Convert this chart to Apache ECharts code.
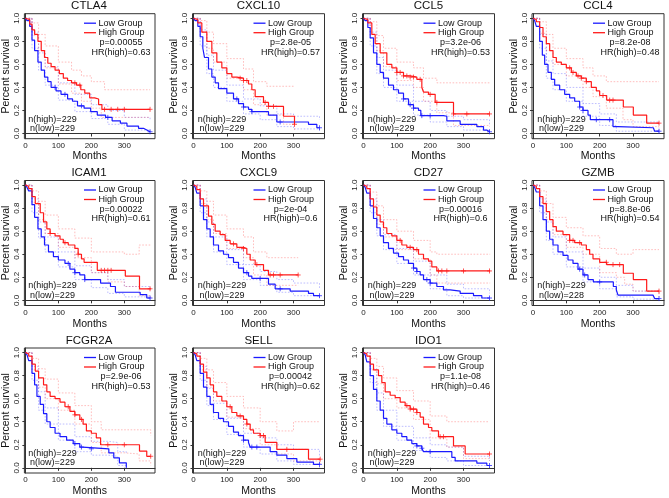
<!DOCTYPE html>
<html><head><meta charset="utf-8">
<script src="https://cdn.jsdelivr.net/npm/echarts@6/dist/echarts.min.js"></script>
<style>html,body{margin:0;padding:0;background:#fff}#c{width:669px;height:498px}</style>
</head><body><div id="c"></div>
<script>
const genes = ['CTLA4','CXCL10','CCL5','CCL4','ICAM1','CXCL9','CD27','GZMB','FCGR2A','SELL','IDO1'];
const pValues = ['0.00055','2.8e-05','3.2e-06','8.2e-08','0.00022','2e-04','0.00016','8.8e-06','2.9e-06','0.00042','1.1e-08'];
const hrValues = ['0.63','0.57','0.53','0.48','0.61','0.6','0.6','0.54','0.53','0.62','0.46'];
const nHigh = [229,229,229,229,229,229,229,229,229,229,229];
const nLow  = [229,229,229,229,229,229,229,228,229,229,229];
const xTicks = [0,100,200,300];
const yTicks = [0,0.2,0.4,0.6,0.8,1.0];

// Kaplan-Meier curves: [month, survival]
const CTLA4_low = [[0,1],[5,0.98],[13,0.93],[20,0.81],[28,0.72],[38,0.62],[48,0.55],[58,0.49],[68,0.45],[78,0.40],[93,0.37],[108,0.34],[128,0.30],[143,0.28],[158,0.24],[178,0.22],[198,0.19],[218,0.16],[243,0.14],[263,0.11],[288,0.09],[308,0.065],[343,0.045],[358,0.03],[368,0.015],[378,0.015]];
const CTLA4_high = [[0,1],[5,0.99],[13,0.95],[20,0.90],[28,0.86],[38,0.80],[48,0.72],[58,0.66],[68,0.61],[78,0.58],[90,0.55],[103,0.52],[115,0.48],[128,0.46],[140,0.44],[155,0.42],[168,0.38],[180,0.35],[195,0.31],[210,0.30],[222,0.25],[232,0.21],[378,0.21]];
const CXCL10_low = [[0,1],[5,0.98],[13,0.93],[20,0.84],[28,0.74],[33,0.66],[45,0.56],[55,0.49],[65,0.44],[75,0.39],[100,0.35],[120,0.30],[135,0.26],[150,0.23],[165,0.21],[175,0.19],[225,0.16],[250,0.10],[345,0.08],[370,0.05],[378,0.05]];
const CXCL10_high = [[0,1],[5,0.99],[13,0.96],[25,0.88],[40,0.80],[55,0.70],[70,0.62],[85,0.57],[100,0.52],[115,0.49],[130,0.48],[150,0.46],[165,0.43],[175,0.38],[185,0.32],[210,0.27],[225,0.235],[270,0.15],[303,0.08]];
const CCL5_low = [[0,1],[5,0.98],[13,0.92],[20,0.83],[30,0.70],[40,0.60],[50,0.53],[60,0.48],[75,0.42],[90,0.38],[105,0.35],[120,0.30],[135,0.25],[150,0.22],[165,0.20],[172,0.155],[240,0.15],[250,0.11],[290,0.08],[340,0.06],[360,0.03],[370,0.015],[378,0.015]];
const CCL5_high = [[0,1],[5,0.99],[13,0.96],[25,0.86],[35,0.78],[50,0.70],[70,0.60],[85,0.57],[100,0.53],[120,0.50],[140,0.49],[160,0.47],[175,0.40],[180,0.36],[195,0.34],[215,0.27],[270,0.17],[378,0.17]];
const CCL4_low = [[0,1],[5,0.98],[10,0.93],[20,0.80],[28,0.68],[35,0.60],[45,0.53],[55,0.47],[65,0.42],[80,0.38],[95,0.34],[110,0.31],[125,0.28],[140,0.23],[150,0.20],[165,0.16],[172,0.12],[231,0.12],[240,0.06],[255,0.05],[361,0.05],[365,0.02],[378,0.02]];
const CCL4_high = [[0,1],[5,0.99],[10,0.97],[20,0.92],[30,0.84],[40,0.78],[50,0.72],[60,0.66],[70,0.62],[85,0.60],[100,0.57],[115,0.53],[130,0.50],[145,0.48],[160,0.45],[175,0.40],[190,0.37],[200,0.33],[221,0.29],[271,0.23],[301,0.16],[341,0.09],[378,0.09]];
const ICAM1_low = [[0,1],[5,0.98],[10,0.95],[20,0.83],[28,0.72],[38,0.62],[48,0.55],[58,0.48],[70,0.42],[85,0.38],[100,0.35],[120,0.32],[135,0.27],[150,0.24],[165,0.22],[180,0.18],[228,0.15],[258,0.12],[273,0.07],[348,0.05],[368,0.02],[378,0.02]];
const ICAM1_high = [[0,1],[5,0.99],[10,0.97],[20,0.90],[30,0.84],[45,0.76],[55,0.68],[65,0.62],[75,0.58],[90,0.56],[105,0.53],[115,0.50],[130,0.48],[150,0.45],[160,0.40],[170,0.36],[178,0.33],[218,0.26],[303,0.21],[346,0.10],[380,0.10]];
const CXCL9_low = [[0,1],[5,0.98],[10,0.93],[20,0.82],[30,0.70],[40,0.62],[50,0.55],[60,0.48],[75,0.43],[90,0.40],[105,0.37],[120,0.33],[135,0.28],[150,0.24],[165,0.21],[175,0.19],[225,0.14],[245,0.10],[290,0.08],[345,0.06],[360,0.04],[378,0.04]];
const CXCL9_high = [[0,1],[5,0.99],[10,0.96],[20,0.88],[30,0.82],[45,0.73],[55,0.66],[65,0.60],[80,0.57],[95,0.52],[110,0.49],[130,0.46],[150,0.45],[160,0.40],[170,0.35],[185,0.31],[210,0.26],[225,0.22],[314,0.22]];
const CD27_low = [[0,1],[5,0.98],[10,0.93],[20,0.82],[30,0.71],[40,0.63],[50,0.56],[60,0.50],[75,0.45],[90,0.41],[105,0.38],[120,0.35],[135,0.32],[150,0.28],[160,0.25],[170,0.22],[180,0.18],[200,0.15],[220,0.12],[240,0.09],[260,0.08],[290,0.06],[330,0.04],[355,0.02],[378,0.02]];
const CD27_high = [[0,1],[5,0.99],[10,0.97],[20,0.88],[30,0.81],[40,0.74],[50,0.68],[60,0.63],[70,0.58],[85,0.56],[100,0.52],[115,0.48],[130,0.46],[150,0.44],[165,0.40],[180,0.36],[195,0.34],[205,0.29],[220,0.255],[380,0.255]];
const GZMB_low = [[0,1],[5,0.98],[10,0.94],[20,0.82],[30,0.70],[40,0.60],[50,0.53],[60,0.48],[75,0.42],[90,0.39],[105,0.35],[120,0.32],[135,0.27],[150,0.22],[165,0.18],[181,0.16],[241,0.12],[250,0.09],[255,0.045],[360,0.045],[365,0.015],[378,0.015]];
const GZMB_high = [[0,1],[5,0.99],[10,0.97],[20,0.90],[30,0.84],[40,0.77],[50,0.70],[60,0.64],[70,0.60],[90,0.57],[110,0.52],[125,0.50],[145,0.48],[160,0.44],[170,0.40],[180,0.36],[200,0.33],[221,0.31],[271,0.235],[301,0.18],[341,0.08],[378,0.08]];
const FCGR2A_low = [[0,1],[5,0.98],[10,0.93],[20,0.82],[28,0.72],[35,0.62],[45,0.55],[55,0.47],[65,0.40],[75,0.35],[90,0.30],[105,0.27],[125,0.24],[145,0.21],[165,0.18],[173,0.165],[253,0.13],[268,0.087],[285,0.043],[306,0.0]];
const FCGR2A_high = [[0,1],[5,0.99],[10,0.97],[20,0.90],[30,0.84],[40,0.78],[55,0.72],[65,0.66],[75,0.62],[90,0.60],[105,0.57],[120,0.53],[135,0.49],[150,0.46],[165,0.42],[175,0.38],[185,0.32],[200,0.30],[215,0.26],[228,0.20],[346,0.145],[368,0.10],[380,0.10]];
const SELL_low = [[0,1],[5,0.98],[10,0.93],[20,0.82],[30,0.70],[40,0.62],[50,0.55],[60,0.48],[75,0.43],[90,0.40],[105,0.36],[120,0.31],[135,0.28],[150,0.24],[165,0.22],[170,0.18],[230,0.14],[250,0.11],[280,0.08],[310,0.05],[360,0.03],[378,0.03]];
const SELL_high = [[0,1],[5,0.99],[10,0.97],[20,0.90],[30,0.83],[40,0.78],[50,0.72],[60,0.66],[70,0.62],[85,0.58],[100,0.53],[115,0.48],[130,0.45],[150,0.42],[160,0.38],[170,0.33],[180,0.30],[200,0.28],[215,0.22],[250,0.16],[345,0.075],[380,0.075]];
const IDO1_low = [[0,1],[5,0.98],[10,0.92],[20,0.80],[30,0.68],[40,0.58],[50,0.50],[60,0.43],[70,0.38],[85,0.33],[100,0.30],[115,0.27],[130,0.24],[145,0.21],[160,0.19],[175,0.17],[180,0.14],[265,0.09],[275,0.06],[340,0.04],[370,0.02],[378,0.02]];
const IDO1_high = [[0,1],[5,0.99],[10,0.97],[20,0.90],[30,0.85],[45,0.80],[55,0.74],[65,0.66],[80,0.63],[95,0.61],[110,0.57],[125,0.54],[140,0.51],[160,0.48],[170,0.44],[180,0.38],[195,0.35],[205,0.32],[225,0.27],[270,0.19],[305,0.12],[378,0.12]];

// 95% confidence bands (dotted): [month, survival]
const CTLA4_hiU = [[0,1],[20,0.96],[40,0.86],[60,0.76],[100,0.62],[140,0.55],[170,0.50],[200,0.45],[240,0.38],[378,0.38]];
const CTLA4_hiL = [[0,1],[20,0.85],[40,0.72],[60,0.57],[100,0.43],[140,0.35],[170,0.28],[200,0.22],[230,0.14],[378,0.14]];
const CTLA4_loU = [[0,1],[20,0.88],[40,0.70],[60,0.58],[100,0.44],[150,0.34],[200,0.25],[250,0.20],[300,0.14],[378,0.12]];
const CTLA4_loL = [[0,1],[20,0.74],[40,0.55],[60,0.42],[100,0.29],[150,0.19],[200,0.13],[250,0.08],[300,0.03],[378,0.0]];
const CXCL10_hiU = [[0,1],[20,0.98],[40,0.88],[60,0.78],[100,0.65],[150,0.56],[180,0.45],[220,0.41],[303,0.41]];
const CXCL10_hiL = [[0,1],[20,0.88],[40,0.74],[60,0.62],[100,0.48],[150,0.38],[180,0.25],[220,0.16],[270,0.08],[303,0.03]];
const CXCL10_loU = [[0,1],[20,0.90],[40,0.68],[60,0.55],[100,0.42],[150,0.30],[200,0.24],[250,0.17],[300,0.15],[378,0.12]];
const CXCL10_loL = [[0,1],[20,0.76],[40,0.52],[60,0.40],[100,0.28],[150,0.17],[200,0.12],[250,0.06],[300,0.04],[378,0.02]];
const CCL5_hiU = [[0,1],[20,0.97],[40,0.85],[60,0.74],[100,0.62],[150,0.57],[180,0.48],[220,0.44],[378,0.44]];
const CCL5_hiL = [[0,1],[20,0.86],[40,0.72],[60,0.58],[100,0.46],[150,0.40],[180,0.28],[220,0.18],[270,0.07],[378,0.06]];
const CCL5_loU = [[0,1],[20,0.88],[40,0.66],[60,0.55],[100,0.42],[150,0.28],[200,0.20],[250,0.15],[300,0.12],[378,0.08]];
const CCL5_loL = [[0,1],[20,0.76],[40,0.52],[60,0.40],[100,0.28],[150,0.16],[200,0.10],[250,0.06],[300,0.03],[378,0.0]];
const CCL4_hiU = [[0,1],[20,0.97],[40,0.86],[60,0.74],[100,0.65],[150,0.57],[180,0.50],[220,0.45],[378,0.45]];
const CCL4_hiL = [[0,1],[20,0.87],[40,0.72],[60,0.60],[100,0.50],[150,0.40],[180,0.32],[220,0.22],[270,0.12],[300,0.06],[378,0.02]];
const CCL4_loU = [[0,1],[20,0.86],[40,0.63],[60,0.52],[100,0.40],[150,0.26],[200,0.17],[250,0.10],[378,0.08]];
const CCL4_loL = [[0,1],[20,0.74],[40,0.48],[60,0.38],[100,0.28],[150,0.15],[200,0.07],[250,0.02],[378,0.0]];
const ICAM1_hiU = [[0,1],[20,0.95],[40,0.86],[60,0.74],[100,0.62],[150,0.54],[200,0.42],[300,0.40],[345,0.48],[380,0.48]];
const ICAM1_hiL = [[0,1],[20,0.85],[40,0.70],[60,0.58],[100,0.46],[150,0.37],[200,0.24],[250,0.16],[300,0.12],[345,0.04],[380,0.02]];
const ICAM1_loU = [[0,1],[20,0.88],[40,0.68],[60,0.55],[100,0.42],[150,0.30],[200,0.24],[250,0.18],[300,0.12],[378,0.08]];
const ICAM1_loL = [[0,1],[20,0.76],[40,0.54],[60,0.42],[100,0.29],[150,0.18],[200,0.11],[250,0.06],[300,0.03],[378,0.0]];
const CXCL9_hiU = [[0,1],[20,0.95],[40,0.86],[60,0.74],[100,0.62],[150,0.55],[180,0.42],[220,0.37],[314,0.37]];
const CXCL9_hiL = [[0,1],[20,0.84],[40,0.70],[60,0.58],[100,0.45],[150,0.37],[180,0.22],[220,0.13],[314,0.13]];
const CXCL9_loU = [[0,1],[20,0.88],[40,0.68],[60,0.55],[100,0.44],[150,0.31],[200,0.25],[250,0.18],[300,0.15],[378,0.10]];
const CXCL9_loL = [[0,1],[20,0.76],[40,0.55],[60,0.42],[100,0.31],[150,0.18],[200,0.13],[250,0.07],[300,0.04],[378,0.01]];
const CD27_hiU = [[0,1],[20,0.94],[40,0.82],[60,0.70],[100,0.60],[150,0.52],[200,0.42],[220,0.40],[380,0.40]];
const CD27_hiL = [[0,1],[20,0.82],[40,0.66],[60,0.55],[100,0.44],[150,0.36],[200,0.22],[220,0.15],[380,0.15]];
const CD27_loU = [[0,1],[20,0.88],[40,0.70],[60,0.57],[100,0.45],[150,0.34],[200,0.22],[250,0.14],[300,0.10],[378,0.06]];
const CD27_loL = [[0,1],[20,0.76],[40,0.56],[60,0.44],[100,0.32],[150,0.22],[200,0.10],[250,0.04],[300,0.02],[378,0.0]];
const GZMB_hiU = [[0,1],[20,0.95],[40,0.84],[60,0.72],[100,0.63],[150,0.56],[200,0.45],[250,0.40],[300,0.44],[378,0.44]];
const GZMB_hiL = [[0,1],[20,0.85],[40,0.70],[60,0.57],[100,0.46],[150,0.40],[200,0.24],[250,0.20],[275,0.14],[300,0.08],[378,0.03]];
const GZMB_loU = [[0,1],[20,0.88],[40,0.68],[60,0.55],[100,0.42],[150,0.28],[200,0.20],[250,0.13],[300,0.08],[378,0.06]];
const GZMB_loL = [[0,1],[20,0.76],[40,0.52],[60,0.40],[100,0.29],[150,0.16],[200,0.10],[250,0.03],[300,0.01],[378,0.0]];
const FCGR2A_hiU = [[0,1],[20,0.95],[40,0.86],[60,0.77],[100,0.65],[150,0.54],[200,0.40],[230,0.33],[345,0.33],[380,0.28]];
const FCGR2A_hiL = [[0,1],[20,0.85],[40,0.70],[60,0.60],[100,0.50],[150,0.38],[200,0.22],[230,0.13],[300,0.12],[345,0.06],[380,0.02]];
const FCGR2A_loU = [[0,1],[20,0.88],[40,0.66],[60,0.52],[100,0.38],[150,0.27],[200,0.23],[250,0.22],[280,0.14],[306,0.12]];
const FCGR2A_loL = [[0,1],[20,0.76],[40,0.50],[60,0.38],[100,0.24],[150,0.14],[200,0.11],[250,0.10],[280,0.02],[306,0.0]];
const SELL_hiU = [[0,1],[20,0.95],[40,0.85],[60,0.74],[100,0.62],[150,0.52],[200,0.40],[250,0.32],[300,0.40],[380,0.40]];
const SELL_hiL = [[0,1],[20,0.85],[40,0.70],[60,0.58],[100,0.44],[150,0.34],[200,0.20],[250,0.12],[300,0.06],[380,0.02]];
const SELL_loU = [[0,1],[20,0.88],[40,0.69],[60,0.56],[100,0.43],[150,0.30],[200,0.26],[250,0.20],[300,0.16],[378,0.10]];
const SELL_loL = [[0,1],[20,0.76],[40,0.54],[60,0.42],[100,0.29],[150,0.18],[200,0.12],[250,0.06],[300,0.03],[378,0.0]];
const IDO1_hiU = [[0,1],[20,0.95],[40,0.88],[60,0.78],[100,0.67],[150,0.58],[200,0.45],[250,0.40],[378,0.40]];
const IDO1_hiL = [[0,1],[20,0.85],[40,0.73],[60,0.60],[100,0.52],[150,0.42],[200,0.26],[250,0.18],[300,0.08],[378,0.06]];
const IDO1_loU = [[0,1],[20,0.86],[40,0.65],[60,0.50],[100,0.36],[150,0.26],[200,0.20],[250,0.18],[300,0.10],[378,0.06]];
const IDO1_loL = [[0,1],[20,0.74],[40,0.50],[60,0.36],[100,0.24],[150,0.15],[200,0.09],[250,0.06],[300,0.02],[378,0.0]];

// censoring times (months)
const CTLA4_hiCens = [150,165,240,260,280,300,378], CTLA4_loCens = [90,120,170,250,378];
const CXCL10_hiCens = [140,150,160,215,225,240,303], CXCL10_loCens = [130,150,175,260,378];
const CCL5_hiCens = [100,110,120,130,140,150,170,200,220,270,310,378], CCL5_loCens = [120,140,150,175,200,378];
const CCL4_hiCens = [110,120,135,145,160,210,230,240,378], CCL4_loCens = [140,150,190,230,378];
const ICAM1_hiCens = [75,120,160,230,240,250,260,378], ICAM1_loCens = [130,150,180,378];
const CXCL9_hiCens = [120,150,190,230,240,260,314], CXCL9_loCens = [160,200,260,378];
const CD27_hiCens = [110,140,160,225,235,250,300,378], CD27_loCens = [150,160,190,200,378];
const GZMB_hiCens = [110,120,140,220,240,260,378], GZMB_loCens = [140,155,200,378];
const FCGR2A_hiCens = [130,150,170,250,300,380], FCGR2A_loCens = [150,170,200];
const SELL_hiCens = [110,140,160,200,210,280,380], SELL_loCens = [150,175,190,378];
const IDO1_hiCens = [130,140,150,160,230,240,378], IDO1_loCens = [160,175,200,378];

const panels = [
 [CTLA4_low,CTLA4_high,CTLA4_loU,CTLA4_loL,CTLA4_hiU,CTLA4_hiL,CTLA4_loCens,CTLA4_hiCens],
 [CXCL10_low,CXCL10_high,CXCL10_loU,CXCL10_loL,CXCL10_hiU,CXCL10_hiL,CXCL10_loCens,CXCL10_hiCens],
 [CCL5_low,CCL5_high,CCL5_loU,CCL5_loL,CCL5_hiU,CCL5_hiL,CCL5_loCens,CCL5_hiCens],
 [CCL4_low,CCL4_high,CCL4_loU,CCL4_loL,CCL4_hiU,CCL4_hiL,CCL4_loCens,CCL4_hiCens],
 [ICAM1_low,ICAM1_high,ICAM1_loU,ICAM1_loL,ICAM1_hiU,ICAM1_hiL,ICAM1_loCens,ICAM1_hiCens],
 [CXCL9_low,CXCL9_high,CXCL9_loU,CXCL9_loL,CXCL9_hiU,CXCL9_hiL,CXCL9_loCens,CXCL9_hiCens],
 [CD27_low,CD27_high,CD27_loU,CD27_loL,CD27_hiU,CD27_hiL,CD27_loCens,CD27_hiCens],
 [GZMB_low,GZMB_high,GZMB_loU,GZMB_loL,GZMB_hiU,GZMB_hiL,GZMB_loCens,GZMB_hiCens],
 [FCGR2A_low,FCGR2A_high,FCGR2A_loU,FCGR2A_loL,FCGR2A_hiU,FCGR2A_hiL,FCGR2A_loCens,FCGR2A_hiCens],
 [SELL_low,SELL_high,SELL_loU,SELL_loL,SELL_hiU,SELL_hiL,SELL_loCens,SELL_hiCens],
 [IDO1_low,IDO1_high,IDO1_loU,IDO1_loL,IDO1_hiU,IDO1_hiL,IDO1_loCens,IDO1_hiCens]
];

// layout
const colL = [23, 192.5, 362.5, 532];
const rowT = [13.7, 180.5, 348];
const rowNameGap = [10.5, 13.5, 13];
const W = 132, H = 125;
const FONT = 'Liberation Sans, Arial, sans-serif';
const BLUE = '#1a1aff', RED = '#ff1a1a';
const BLUE_CI = 'rgba(40,40,255,0.38)', RED_CI = 'rgba(255,40,40,0.38)';

function survAt(curve, t){ let v = curve[0][1]; for (const p of curve){ if (p[0] <= t) v = p[1]; else break; } return v; }

const grid = [], xAxis = [], yAxis = [], series = [], graphic = [];
genes.forEach((g, i) => {
  const c = i % 4, r = Math.floor(i / 4);
  const L = colL[c], T = rowT[r];
  grid.push({left: L, top: T, width: W, height: H, show: true, borderColor: '#333', borderWidth: 1, backgroundColor: 'transparent'});
  xAxis.push({type: 'value', gridIndex: i, min: -3, max: 393,
    name: 'Months', nameLocation: 'middle', nameGap: rowNameGap[r],
    nameTextStyle: {fontFamily: FONT, fontSize: 10.5, color: '#111'},
    axisLine: {show: true, lineStyle: {color: '#333', width: 1}},
    axisTick: {show: true, length: 3, customValues: xTicks, lineStyle: {color: '#333'}},
    axisLabel: {customValues: xTicks, fontFamily: FONT, fontSize: 8, color: '#222', margin: 3},
    splitLine: {show: false}});
  yAxis.push({type: 'value', gridIndex: i, min: -0.045, max: 1.04,
    name: 'Percent survival', nameLocation: 'middle', nameGap: 10.5,
    nameTextStyle: {fontFamily: FONT, fontSize: 10.5, color: '#111'},
    axisLine: {show: true, lineStyle: {color: '#333', width: 1}},
    axisTick: {show: true, length: 3, customValues: yTicks, lineStyle: {color: '#333'}},
    axisLabel: {customValues: yTicks, rotate: 90, fontFamily: FONT, fontSize: 8, color: '#222', margin: 3.5,
      formatter: v => v.toFixed(1)},
    splitLine: {show: false}});
  const [low, high, loU, loL, hiU, hiL, loC, hiC] = panels[i];
  const ci = (d, col) => ({type: 'line', xAxisIndex: i, yAxisIndex: i, data: d, step: 'end', symbol: 'none', silent: true,
    lineStyle: {color: col, width: 0.8, type: [1.6, 1.6]}, z: 1});
  series.push(ci(loU, BLUE_CI), ci(loL, BLUE_CI), ci(hiU, RED_CI), ci(hiL, RED_CI));
  const km = (d, col) => ({type: 'line', xAxisIndex: i, yAxisIndex: i, data: d, step: 'end', symbol: 'none', silent: true,
    lineStyle: {color: col, width: 1.2}, z: 3});
  series.push(km(low, BLUE), km(high, RED));
  const cens = (times, curve, col) => ({type: 'scatter', xAxisIndex: i, yAxisIndex: i, silent: true, z: 4,
    data: times.map(t => [t, survAt(curve, t)]), symbol: 'path://M4,0V8M0,4H8', symbolSize: 5, symbolKeepAspect: true,
    itemStyle: {color: 'rgba(0,0,0,0)', borderColor: col, borderWidth: 0.9}});
  series.push(cens(loC, low, BLUE), cens(hiC, high, RED));

  const txt = (x, y, s, size, align) => ({type: 'text', x: x, y: y, silent: true,
    style: {text: s, fontFamily: FONT, fontSize: size, fill: '#111', align: align, verticalAlign: 'middle'}});
  graphic.push(txt(L + W / 2, T - 7.5, g, 11.5, 'center'));
  graphic.push({type: 'line', silent: true, shape: {x1: L + 61, y1: T + 9.5, x2: L + 73, y2: T + 9.5}, style: {stroke: BLUE, lineWidth: 1.3}});
  graphic.push({type: 'line', silent: true, shape: {x1: L + 61, y1: T + 19, x2: L + 73, y2: T + 19}, style: {stroke: RED, lineWidth: 1.3}});
  graphic.push(txt(L + 75.5, T + 9.5, 'Low Group', 9, 'left'));
  graphic.push(txt(L + 75.5, T + 19, 'High Group', 9, 'left'));
  graphic.push(txt(L + 98, T + 28.8, 'p=' + pValues[i], 9, 'center'));
  graphic.push(txt(L + 98, T + 38.5, 'HR(high)=' + hrValues[i], 9, 'center'));
  graphic.push(txt(L + 29.5, T + 105.5, 'n(high)=' + nHigh[i], 9, 'center'));
  graphic.push(txt(L + 29.5, T + 115, 'n(low)=' + nLow[i], 9, 'center'));
});

const chart = echarts.init(document.getElementById('c'), null, {renderer: 'canvas'});
chart.setOption({animation: false, backgroundColor: '#fff', grid, xAxis, yAxis, series, graphic});
</script></body></html>
